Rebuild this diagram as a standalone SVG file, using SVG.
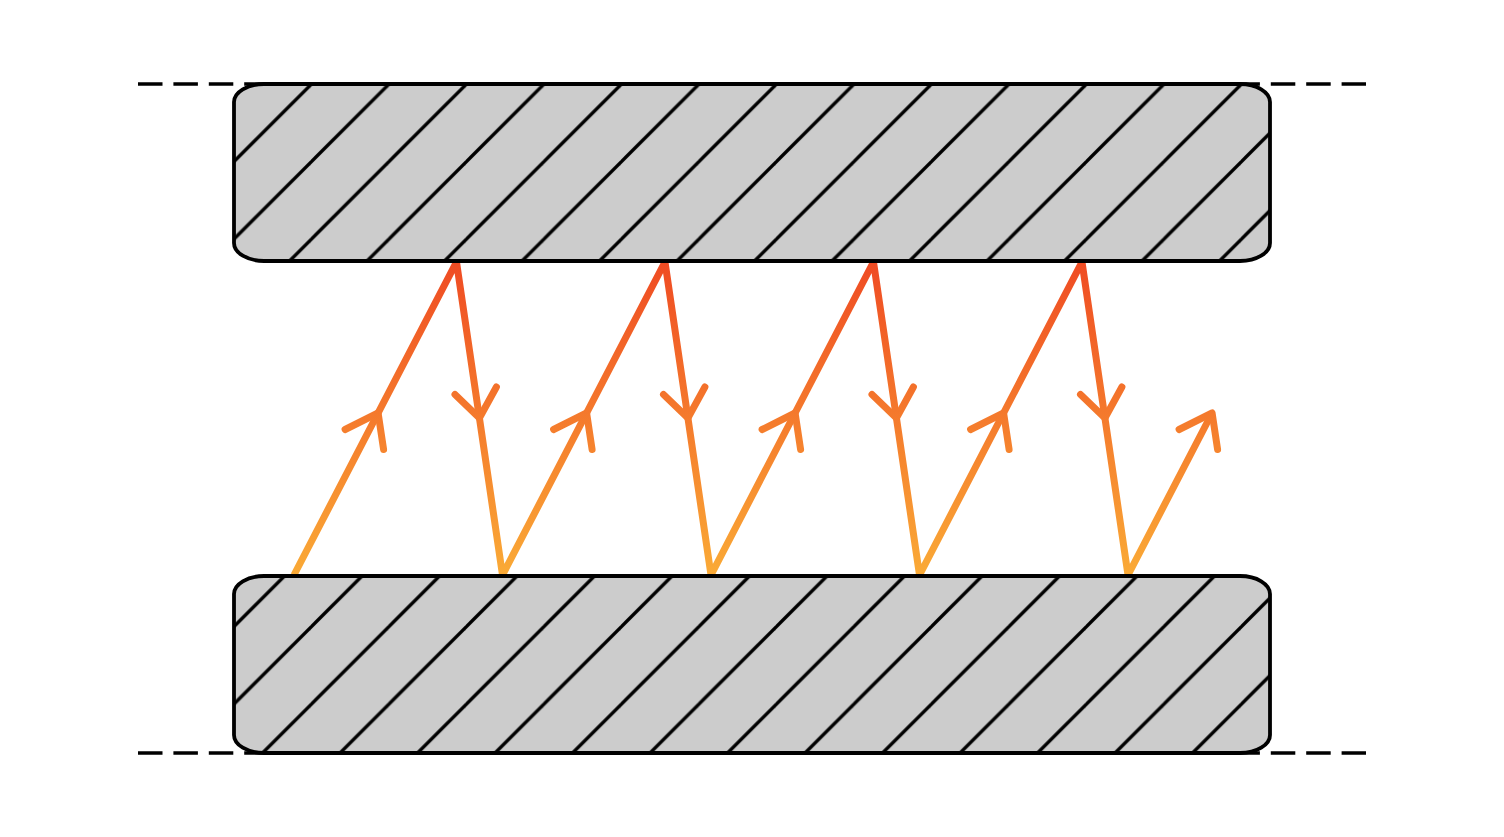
<svg xmlns="http://www.w3.org/2000/svg" width="1504" height="837" viewBox="0 0 1504 837">
  <style>
    .dash { stroke: #000; stroke-width: 3.6; stroke-dasharray: 24.5 10.9; fill: none; }
    .block { stroke: #000; stroke-width: 3.8; }
    .bfill { fill: #cccccc; }
    .hatch { stroke: #000; stroke-width: 3.4; fill: none; }
    .ray { stroke: url(#rayGrad); stroke-width: 7; fill: none; stroke-linejoin: miter; stroke-miterlimit: 20; }
    .head { stroke: url(#rayGrad); stroke-width: 7; fill: none; stroke-linecap: round; stroke-linejoin: round; }
  </style>
  <defs>
    <linearGradient id="rayGrad" gradientUnits="userSpaceOnUse" x1="0" y1="575" x2="0" y2="262">
      <stop offset="0" stop-color="#faaa36"/>
      <stop offset="1" stop-color="#ef4b23"/>
    </linearGradient>
    <pattern id="hatchPat" patternUnits="userSpaceOnUse" x="0" y="0" width="77.5" height="77.5">
      <rect width="77.5" height="77.5" class="bfill"/>
      <line class="hatch" x1="-10" y1="18" x2="18" y2="-10"/>
      <line class="hatch" x1="-10" y1="95.5" x2="95.5" y2="-10"/>
      <line class="hatch" x1="-10" y1="173" x2="173" y2="-10"/>
    </pattern>
  </defs>

  <g id="boundaries">
    <line class="dash" x1="138" y1="84" x2="1366" y2="84"/>
    <line class="dash" x1="138" y1="753" x2="1366" y2="753"/>
  </g>

  <g id="connectors">
    <polyline class="ray" points="294,575 456.5,262 502.5,575 665,262 711,575 873.5,262 919.5,575 1082,262 1128,575 1212.1,413"/>
    <!-- up arrowheads -->
    <path class="head" d="M345.1,429.5 L378.1,413 L383.6,449.5"/>
    <path class="head" d="M553.6,429.5 L586.6,413 L592.1,449.5"/>
    <path class="head" d="M762.1,429.5 L795.1,413 L800.6,449.5"/>
    <path class="head" d="M970.6,429.5 L1003.6,413 L1009.1,449.5"/>
    <path class="head" d="M1179.1,429.5 L1212.1,413 L1217.6,449.5"/>
    <!-- down arrowheads -->
    <path class="head" d="M455,394.5 L479.4,418 L496.4,387"/>
    <path class="head" d="M663.5,394.5 L687.9,418 L704.9,387"/>
    <path class="head" d="M872,394.5 L896.4,418 L913.4,387"/>
    <path class="head" d="M1080.5,394.5 L1104.9,418 L1121.9,387"/>
  </g>

  <g id="top-wall">
    <rect class="block" x="234" y="84" width="1036" height="177" rx="30" ry="18" fill="url(#hatchPat)"/>
  </g>

  <g id="bottom-wall">
    <rect class="block" x="234" y="576" width="1036" height="177" rx="30" ry="18" fill="url(#hatchPat)"/>
  </g>
</svg>
